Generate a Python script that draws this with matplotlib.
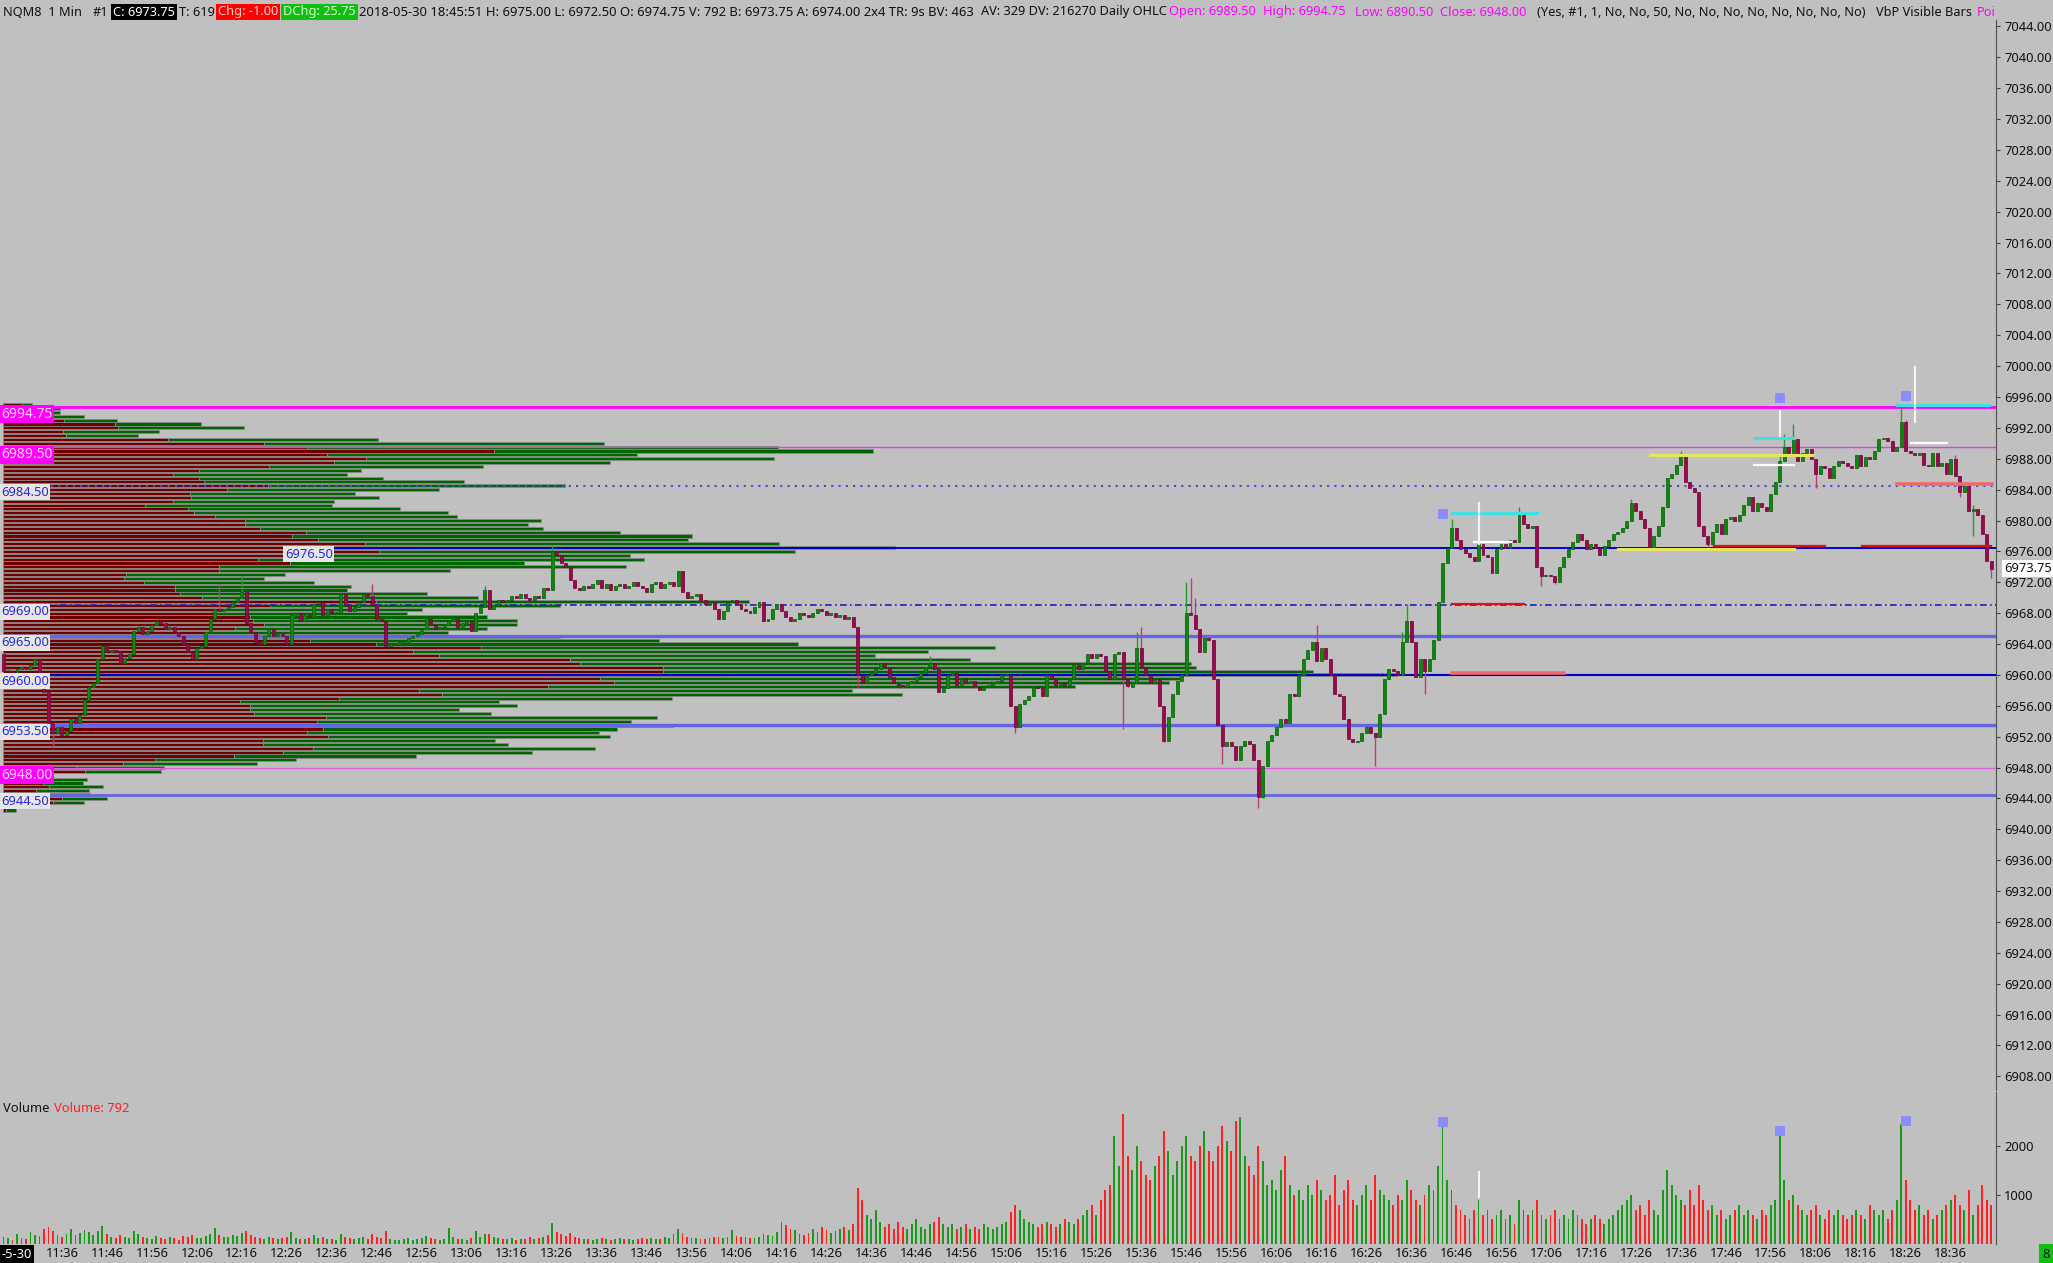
import matplotlib
matplotlib.use("Agg")
import matplotlib.pyplot as plt
import numpy as np

# ---------------- data ----------------
first_open = 6962.75
closes = [
    6960.50, 6960.50, 6960.25, 6960.75, 6961.00, 6960.75, 6961.25, 6962.00, 6960.25, 6957.75,
    6953.75, 6952.50, 6953.25, 6952.25, 6952.75, 6954.25, 6953.75, 6954.75, 6956.75, 6958.50,
    6959.00, 6962.00, 6963.75, 6963.00, 6963.25, 6963.00, 6961.50, 6962.25, 6962.75, 6965.75,
    6966.25, 6965.25, 6965.75, 6966.50, 6967.00, 6966.75, 6966.00, 6966.25, 6965.50, 6965.00,
    6964.00, 6963.00, 6962.00, 6963.50, 6963.75, 6965.50, 6967.25, 6968.50, 6968.25, 6968.50,
    6968.75, 6969.50, 6970.00, 6970.75, 6966.75, 6965.50, 6964.25, 6964.00, 6965.00, 6966.00,
    6965.00, 6965.25, 6965.00, 6964.00, 6967.75, 6968.00, 6967.00, 6967.75, 6967.50, 6969.25,
    6969.50, 6967.75, 6968.50, 6968.00, 6968.00, 6970.50, 6969.00, 6968.25, 6968.75, 6969.50,
    6970.50, 6970.25, 6969.00, 6967.25, 6967.00, 6963.75, 6964.00, 6964.00, 6964.25, 6964.25,
    6964.75, 6965.00, 6965.25, 6966.00, 6967.25, 6966.50, 6966.00, 6966.25, 6966.50, 6967.00,
    6967.25, 6966.25, 6966.75, 6967.00, 6965.75, 6968.00, 6968.75, 6971.00, 6968.50, 6969.00,
    6969.75, 6969.50, 6969.75, 6970.25, 6970.00, 6970.50, 6970.00, 6969.75, 6970.25, 6970.00,
    6971.25, 6971.00, 6976.00, 6975.50, 6974.50, 6974.00, 6972.25, 6971.25, 6971.00, 6971.50,
    6971.25, 6971.75, 6972.25, 6971.25, 6971.75, 6971.00, 6971.50, 6971.75, 6971.25, 6971.50,
    6972.00, 6971.50, 6971.25, 6970.75, 6971.75, 6972.00, 6971.25, 6971.75, 6972.00, 6971.50,
    6973.50, 6970.75, 6970.00, 6970.25, 6970.50, 6969.75, 6969.25, 6969.50, 6968.50, 6967.25,
    6968.25, 6969.50, 6969.75, 6969.25, 6968.50, 6968.25, 6968.00, 6968.75, 6969.50, 6967.00,
    6967.25, 6968.50, 6969.25, 6968.25, 6967.50, 6967.00, 6967.25, 6968.00, 6967.75, 6967.50,
    6968.00, 6968.50, 6968.25, 6967.75, 6968.00, 6967.50, 6967.75, 6967.25, 6967.50, 6966.25,
    6960.00, 6959.00, 6960.00, 6960.25, 6960.75, 6961.50, 6961.00, 6959.75, 6959.00, 6958.75,
    6958.50, 6959.00, 6959.25, 6959.75, 6960.25, 6961.00, 6961.50, 6960.75, 6957.75, 6958.25,
    6960.00, 6960.25, 6958.75, 6959.50, 6959.00, 6959.25, 6958.50, 6958.00, 6958.50, 6958.75,
    6959.00, 6959.25, 6960.00, 6960.00, 6956.00, 6953.25, 6956.25, 6956.75, 6957.25, 6958.50,
    6958.25, 6957.25, 6960.00, 6959.50, 6958.75, 6959.00, 6958.75, 6959.50, 6961.25, 6960.75,
    6961.50, 6962.75, 6962.25, 6962.75, 6962.50, 6960.50, 6959.50, 6962.75, 6963.00, 6959.50,
    6958.50, 6959.00, 6963.50, 6961.00, 6960.00, 6959.00, 6959.50, 6956.00, 6951.50, 6954.50,
    6957.50, 6959.25, 6960.00, 6968.00, 6967.75, 6966.00, 6963.00, 6964.75, 6964.50, 6959.50,
    6953.50, 6950.75, 6951.25, 6950.75, 6949.00, 6950.75, 6951.50, 6951.00, 6949.00, 6944.25,
    6948.25, 6951.50, 6952.25, 6953.25, 6954.25, 6953.75, 6957.50, 6957.25, 6960.00, 6962.00,
    6963.25, 6964.25, 6961.75, 6963.50, 6962.00, 6960.00, 6957.50, 6957.25, 6954.25, 6951.75,
    6951.25, 6951.50, 6952.50, 6953.25, 6952.50, 6952.00, 6955.00, 6959.50, 6960.75, 6960.50,
    6960.00, 6964.25, 6967.00, 6964.25, 6959.75, 6962.00, 6960.50, 6962.00, 6964.50, 6969.50,
    6974.50, 6976.50, 6979.00, 6977.50, 6976.25, 6975.75, 6975.25, 6974.75, 6977.00, 6975.50,
    6975.25, 6973.25, 6976.25, 6977.00, 6976.50, 6977.50, 6977.25, 6980.75, 6979.50, 6979.00,
    6979.25, 6974.00, 6972.75, 6973.00, 6972.75, 6972.00, 6974.00, 6975.25, 6976.25, 6977.25,
    6978.25, 6977.50, 6976.25, 6977.00, 6976.50, 6975.50, 6976.75, 6977.50, 6978.25, 6978.50,
    6979.00, 6980.00, 6982.25, 6981.25, 6980.25, 6979.00, 6976.50, 6978.00, 6979.25, 6981.75,
    6985.50, 6986.00, 6987.25, 6988.50, 6985.00, 6984.25, 6983.75, 6979.25, 6978.00, 6977.00,
    6978.50, 6979.50, 6978.25, 6980.25, 6980.50, 6980.00, 6980.75, 6982.00, 6983.00, 6981.25,
    6982.25, 6981.75, 6981.25, 6983.50, 6985.00, 6987.75, 6989.50, 6988.75, 6990.50, 6987.75,
    6988.75, 6989.25, 6988.00, 6986.00, 6987.00, 6986.75, 6985.50, 6987.00, 6987.75, 6987.50,
    6987.00, 6986.75, 6988.50, 6987.00, 6988.25, 6988.00, 6989.00, 6990.50, 6990.75, 6990.25,
    6989.00, 6989.50, 6992.75, 6989.00, 6988.75, 6988.50, 6988.75, 6987.25, 6987.00, 6988.75,
    6987.00, 6987.50, 6986.00, 6988.00, 6985.75, 6983.75, 6984.50, 6981.25, 6981.50, 6980.75,
    6978.25, 6974.75, 6973.75,
]
# wick extremes that stand out from the bodies (bar index -> price)
wick_highs = {0: 6963.0, 48: 6971.75, 53: 6972.75, 82: 6971.75, 107: 6971.5, 122: 6976.75,
              206: 6962.5, 252: 6965.5, 253: 6966.25, 263: 6972.0, 264: 6972.5, 265: 6970.0,
              292: 6966.5, 311: 6965.5, 312: 6969.25, 322: 6980.25, 337: 6981.75, 362: 6982.75,
              373: 6989.0, 395: 6988.5, 396: 6991.25, 398: 6992.5, 422: 6994.75, 423: 6993.0,
              434: 6988.5, 438: 6982.0}
wick_lows = {11: 6950.5, 190: 6958.5, 225: 6952.5, 249: 6953.0, 258: 6951.25, 271: 6948.5,
             279: 6942.75, 280: 6944.0, 305: 6948.25, 316: 6957.5, 342: 6971.5, 345: 6971.75,
             379: 6976.5, 403: 6984.25, 435: 6983.0, 438: 6978.0, 442: 6972.5}

volume = [
    150, 120, 90, 200, 130, 110, 250, 180, 160, 300,
    350, 260, 180, 150, 210, 300, 190, 220, 280, 240,
    180, 260, 360, 200, 150, 130, 180, 140, 120, 260,
    200, 150, 120, 110, 160, 130, 100, 150, 120, 90,
    160, 140, 180, 120, 130, 170, 200, 330, 180, 150,
    140, 180, 160, 220, 260, 190, 150, 120, 110, 140,
    130, 110, 120, 150, 240, 130, 110, 100, 120, 180,
    130, 150, 110, 100, 90, 200, 150, 120, 110, 130,
    150, 110, 200, 150, 120, 260, 110, 90, 80, 100,
    120, 90, 100, 130, 170, 120, 110, 90, 100, 320,
    140, 110, 100, 90, 120, 260, 140, 200, 210, 150,
    130, 110, 100, 120, 90, 100, 110, 140, 100, 120,
    150, 180, 420, 250, 200, 160, 220, 150, 120, 110,
    100, 90, 110, 130, 100, 90, 100, 120, 110, 100,
    90, 110, 130, 100, 120, 110, 100, 140, 120, 200,
    300, 220, 150, 130, 120, 110, 100, 130, 150, 140,
    130, 150, 280, 170, 150, 140, 120, 130, 150, 200,
    180, 160, 250, 450, 380, 300, 280, 200, 180, 220,
    300, 250, 350, 280, 220, 260, 300, 350, 280, 400,
    1150, 900, 600, 500, 700, 450, 350, 400, 300, 450,
    350, 300, 400, 500, 350, 300, 400, 450, 550, 400,
    350, 400, 300, 350, 400, 300, 350, 300, 400, 350,
    300, 350, 400, 450, 650, 800, 700, 500, 450, 400,
    350, 400, 450, 400, 350, 400, 500, 450, 400, 500,
    600, 700, 800, 600, 900, 1100, 1200, 2200, 1600, 2650,
    1800, 1500, 2000, 1700, 1400, 1300, 1600, 1800, 2300, 1900,
    1400, 1700, 2000, 2200, 1800, 1700, 2000, 2300, 1900, 1700,
    2000, 2400, 2100, 1900, 2500, 2600, 1800, 1600, 1400, 2000,
    1700, 1200, 1300, 1100, 1500, 1800, 1200, 1000, 1100, 900,
    1200, 1000, 1300, 1100, 900, 1000, 1400, 800, 1100, 1300,
    900, 800, 1000, 1200, 900, 1400, 1100, 1000, 900, 800,
    1000, 900, 1300, 1100, 900, 800, 1000, 1200, 1100, 1600,
    2400, 1300, 1100, 800, 700, 600, 500, 700, 900, 600,
    700, 500, 600, 700, 500, 600, 400, 900, 700, 600,
    700, 900, 600, 500, 600, 700, 500, 600, 500, 700,
    600, 500, 400, 500, 600, 500, 400, 500, 600, 700,
    800, 900, 1000, 700, 800, 600, 900, 700, 600, 1100,
    1500, 1200, 1000, 900, 800, 1100, 800, 1200, 900, 700,
    800, 600, 700, 500, 600, 700, 800, 600, 700, 600,
    500, 700, 600, 800, 900, 2200, 1300, 900, 1000, 800,
    700, 600, 700, 800, 600, 500, 700, 600, 700, 600,
    500, 600, 700, 600, 500, 800, 700, 600, 700, 500,
    700, 900, 2450, 1300, 900, 700, 800, 600, 700, 500,
    600, 700, 800, 900, 1000, 800, 700, 1100, 600, 800,
    1200, 900, 792,
]

# volume-by-price profile, rows from 6995.00 down to 6942.50 (0.5 steps)
profile_top = 6995.0
profile_sell = [
    19, 43, 43, 49, 61, 112, 115, 60, 63, 165,
    261, 304, 491, 324, 363, 331, 266, 196, 170, 196,
    201, 265, 224, 187, 188, 170, 142, 185, 191, 212,
    242, 242, 257, 303, 289, 315, 362, 425, 376, 319,
    255, 287, 216, 216, 123, 121, 141, 172, 172, 177,
    199, 373, 267, 221, 212, 247, 250, 261, 232, 204,
    261, 307, 373, 478, 410, 436, 567, 577, 660, 660,
    720, 597, 611, 545, 416, 439, 336, 237, 247, 247,
    251, 323, 314, 356, 320, 304, 325, 260, 260, 310,
    280, 231, 152, 120, 73, 82, 46, 37, 40, 46,
    33, 43, 59, 50, 0, 3,
]
profile_buy = [
    10, 14, 14, 32, 53, 86, 126, 96, 72, 210,
    340, 471, 379, 310, 408, 276, 214, 162, 174, 184,
    260, 297, 212, 165, 188, 161, 187, 212, 254, 242,
    296, 283, 283, 314, 400, 370, 414, 467, 416, 308,
    386, 234, 407, 231, 159, 140, 170, 176, 172, 247,
    276, 373, 290, 198, 192, 237, 264, 253, 252, 241,
    296, 349, 422, 514, 515, 436, 400, 611, 533, 650,
    674, 580, 555, 527, 433, 460, 333, 259, 267, 209,
    237, 331, 314, 314, 294, 292, 282, 232, 245, 282,
    249, 182, 141, 134, 88, 76, 4, 47, 40, 54,
    53, 44, 45, 31, 0, 10,
]

# key levels drawn across the chart: (price, label)
levels = [(6994.75, "6994.75"), (6989.50, "6989.50"), (6984.50, "6984.50"),
          (6976.50, "6976.50"), (6969.00, "6969.00"), (6965.00, "6965.00"),
          (6960.00, "6960.00"), (6953.50, "6953.50"), (6948.00, "6948.00"),
          (6944.50, "6944.50")]

# short marker segments near the right side: (price, start bar, end bar)
cyan_segs = [(6981.0, 322.2, 341.1), (6990.75, 389.2, 398.2), (6995.0, 421.1, 441.6)]
white_segs = [(6977.25, 327.1, 335.2), (6987.25, 389.2, 398.2), (6990.0, 424.1, 432.2)]
white_ticks = [(328.1, 6977.0, 6982.25), (395.1, 6991.0, 6994.25), (425.0, 6992.75, 6999.9)]
yellow_segs = [(6988.5, 366.2, 402.2), (6976.25, 359.0, 398.2)]
red_segs = [(6969.25, 322.2, 338.2), (6976.75, 380.3, 405.1), (6976.75, 413.2, 442.0)]
salmon_segs = [(6984.75, 421.1, 442.2), (6960.25, 322.2, 347.0)]
square_bars = [320, 395, 423]
square_prices = [6980.8, 6995.9, 6996.1]
square_vols = [2490, 2300, 2520]

price_ticks = np.arange(6908, 7045, 4)
time_labels = ["11:36", "11:46", "11:56", "12:06", "12:16", "12:26", "12:36", "12:46", "12:56",
               "13:06", "13:16", "13:26", "13:36", "13:46", "13:56", "14:06", "14:16", "14:26",
               "14:36", "14:46", "14:56", "15:06", "15:16", "15:26", "15:36", "15:46", "15:56",
               "16:06", "16:16", "16:26", "16:36", "16:46", "16:56", "17:06", "17:16", "17:26",
               "17:36", "17:46", "17:56", "18:06", "18:16", "18:26", "18:36"]
first_label_bar = 13

# ---------------- style ----------------
BG = "#c0c0c0"
UP = "#0b8a0b"
DN = "#9a0a4a"
UP_WICK = "#2a9a2a"
DN_WICK = "#b8407a"
SELL = "#6e0000"
BUY = "#006400"
MAG = "#ff00ff"
FONT = "Noto Sans"
plt.rcParams["font.family"] = [FONT, "DejaVu Sans"]

W, H = 2053, 1263
PX_PER_BAR = 4.497
fig = plt.figure(figsize=(W / 100, H / 100), dpi=100, facecolor=BG)


def fx(px):
    return px / W


def fy(py):
    return 1 - py / H


ax = fig.add_axes([0, fy(1090), fx(1996), (1090 - 20) / H])
axv = fig.add_axes([0, fy(1244), fx(1996), (1244 - 1092) / H], sharex=ax)
for a in (ax, axv):
    a.set_facecolor(BG)
    for s in ("top", "left", "bottom"):
        a.spines[s].set_visible(False)
    a.spines["right"].set_color("#505050")
    a.yaxis.tick_right()
    a.tick_params(axis="y", length=3, color="#404040", labelsize=9.3, pad=3,
                  labelcolor="#101010")

n = len(closes)
x = np.arange(n)
closes_a = np.array(closes)
opens = np.concatenate([[first_open], closes_a[:-1]])
up = closes_a >= opens
highs = np.maximum(opens, closes_a)
lows = np.minimum(opens, closes_a)
for k, v in wick_highs.items():
    highs[k] = max(highs[k], v)
for k, v in wick_lows.items():
    lows[k] = min(lows[k], v)

x_left = -3.5 / PX_PER_BAR
x_right = (1996 - 3.5) / PX_PER_BAR
ax.set_xlim(x_left, x_right)
ax.set_ylim(6996 - (1090 - 397) / 7.72, 6996 + (397 - 20) / 7.72)
axv.set_ylim(0, 3102)

# volume profile
prof_prices = profile_top - 0.5 * np.arange(len(profile_sell))
sell_w = np.array(profile_sell) / PX_PER_BAR
buy_w = np.array(profile_buy) / PX_PER_BAR
x0 = x_left + 3 / PX_PER_BAR
ax.barh(prof_prices, sell_w, left=x0, height=0.4, color=SELL, edgecolor="#8c8c8c",
        linewidth=0.5, zorder=2)
ax.barh(prof_prices, buy_w, left=x0 + sell_w, height=0.4, color=BUY, edgecolor="#8c8c8c",
        linewidth=0.5, zorder=2)

# level lines
level_style = {
    6994.75: dict(color=MAG, lw=2.0, ls="-"),
    6989.50: dict(color="#e040e0", lw=1.0, ls="-"),
    6984.50: dict(color="#4848e0", lw=1.5, ls=(0, (1, 2.5))),
    6976.50: dict(color="#0000c8", lw=1.4, ls="-"),
    6969.00: dict(color="#2020c0", lw=1.2, ls=(0, (4, 2, 1, 2))),
    6965.00: dict(color="#6464e6", lw=2.4, ls="-"),
    6960.00: dict(color="#0000c8", lw=1.5, ls="-"),
    6953.50: dict(color="#6464e6", lw=2.4, ls="-"),
    6948.00: dict(color="#e060e0", lw=1.0, ls="-"),
    6944.50: dict(color="#6464e6", lw=2.0, ls="-"),
}
poc_start = (285 - 3.5) / PX_PER_BAR
for price, lab in levels:
    st = level_style[price]
    xs = poc_start if price == 6976.50 else x_left
    ax.plot([xs, x_right], [price, price], color=st["color"], lw=st["lw"], ls=st["ls"],
            zorder=3, solid_capstyle="butt")
    magenta = price in (6994.75, 6989.50, 6948.00)
    fc = MAG if magenta else "#e6e6e6"
    tc = "#ffd8ff" if magenta else "#2828d8"
    if price == 6976.50:
        ax.text(poc_start, price, lab, ha="left", va="top", fontsize=9.3, color=tc,
                zorder=9, bbox=dict(boxstyle="square,pad=0.12", fc=fc, ec="none"))
    else:
        ax.text(0.0005, price, lab, transform=ax.get_yaxis_transform(), ha="left",
                va="top", fontsize=10 if magenta else 9.3, color=tc, zorder=9,
                bbox=dict(boxstyle="square,pad=0.12", fc=fc, ec="none"))

# candles
ax.vlines(x[up], lows[up], highs[up], color=UP_WICK, lw=1.0, zorder=4)
ax.vlines(x[~up], lows[~up], highs[~up], color=DN_WICK, lw=1.0, zorder=4)
body = np.where(closes_a == opens, 0.12, closes_a - opens)
ax.bar(x, body, bottom=opens, width=0.66, color=np.where(up, UP, DN),
       edgecolor=np.where(up, "#075c07", "#700038"), linewidth=0.5, zorder=5)

# marker segments
for p, a0, a1 in cyan_segs:
    ax.plot([a0, a1], [p, p], color="#40e0e0", lw=2.2, zorder=6)
for p, a0, a1 in white_segs:
    ax.plot([a0, a1], [p, p], color="white", lw=1.6, zorder=6)
for xb, p0, p1 in white_ticks:
    ax.plot([xb, xb], [p0, p1], color="#f4f4f4", lw=1.6, zorder=6)
for p, a0, a1 in yellow_segs:
    ax.plot([a0, a1], [p, p], color="#e6e660", lw=2.2, zorder=6)
for p, a0, a1 in red_segs:
    ax.plot([a0, a1], [p, p], color="#e01010", lw=1.6, zorder=6)
for p, a0, a1 in salmon_segs:
    ax.plot([a0, a1], [p, p], color="#f06a6a", lw=2.6, zorder=6)
ax.scatter(square_bars, square_prices, marker="s", s=55, color="#8c8cff", zorder=7,
           linewidths=0)

ax.set_yticks(price_ticks)
ax.set_yticklabels([f"{v:.2f}" for v in price_ticks])
ax.tick_params(axis="x", bottom=False, labelbottom=False)

# current price box
ax.text(1.004, closes[-1], f"{closes[-1]:.2f}", transform=ax.get_yaxis_transform(),
        ha="left", va="center", fontsize=9.3, color="#101010", zorder=10, clip_on=False,
        bbox=dict(boxstyle="square,pad=0.15", fc="white", ec="none"))

# volume panel
axv.bar(x, volume, width=0.42, color=np.where(up, "#1a9a1a", "#ff2222"), zorder=3)
axv.scatter(square_bars, square_vols, marker="s", s=50, color="#8c8cff", zorder=5,
            linewidths=0)
axv.plot([328.1, 328.1], [950, 1470], color="#f4f4f4", lw=1.5, zorder=4)
axv.set_yticks([1000, 2000])
axv.set_yticklabels(["1000", "2000"])
tick_pos = first_label_bar + 10 * np.arange(len(time_labels))
axv.set_xticks(tick_pos)
axv.set_xticklabels(time_labels)
axv.tick_params(axis="x", length=0, labelsize=9.3, pad=2, labelcolor="#101010")
axv.text(0.0015, 0.89, "Volume", transform=axv.transAxes, fontsize=9.3, color="#101010",
         va="center")
axv.text(0.027, 0.89, "Volume: 792", transform=axv.transAxes, fontsize=9.3,
         color="#ff2020", va="center")

# header line: (x px, text, colour, box colour, font size)
hy = fy(12)
dark = "#101010"
header = [
    (3, "NQM8  1 Min", dark, None, 9.2), (93, "#1", dark, None, 9.2),
    (113, "C: 6973.75", "white", "black", 9.2), (179, "T: 619", dark, None, 9.2),
    (218, "Chg: -1.00", "#ffd0d0", "#ff0000", 9.2),
    (283, "DChg: 25.75", "#d8ffd8", "#10c010", 9.2),
    (359, "2018-05-30 18:45:51 H: 6975.00 L: 6972.50 O: 6974.75 V: 792 B: 6973.75 "
          "A: 6974.00 2x4 TR: 9s BV: 463", dark, None, 9.4),
    (981, "AV: 329 DV: 216270 Daily OHLC", dark, None, 9.2),
    (1169, "Open: 6989.50", MAG, None, 9.2), (1263, "High: 6994.75", MAG, None, 9.2),
    (1355, "Low: 6890.50", MAG, None, 9.2), (1440, "Close: 6948.00", MAG, None, 9.2),
    (1537, "(Yes, #1, 1, No, No, 50, No, No, No, No, No, No, No, No)", dark, None, 9.2),
    (1876, "VbP Visible Bars", dark, None, 9.2), (1977, "Poi", MAG, None, 9.2),
]
for px, txt, col, box, fs in header:
    kw = {}
    if box:
        kw["bbox"] = dict(boxstyle="square,pad=0.15", fc=box, ec="none")
    fig.text(fx(px), hy, txt, color=col, fontsize=fs, ha="left", va="center", **kw)

# bottom corner boxes
fig.text(fx(1), fy(1254), "-5-30", color="white", fontsize=9.3, ha="left", va="center",
         bbox=dict(boxstyle="square,pad=0.2", fc="black", ec="none"))
fig.text(fx(2046), fy(1254), "8", color="#101010", fontsize=9.3, ha="center", va="center",
         bbox=dict(boxstyle="square,pad=0.25", fc="#10c010", ec="none"))

fig.savefig("out.png", dpi=100, facecolor=BG)
